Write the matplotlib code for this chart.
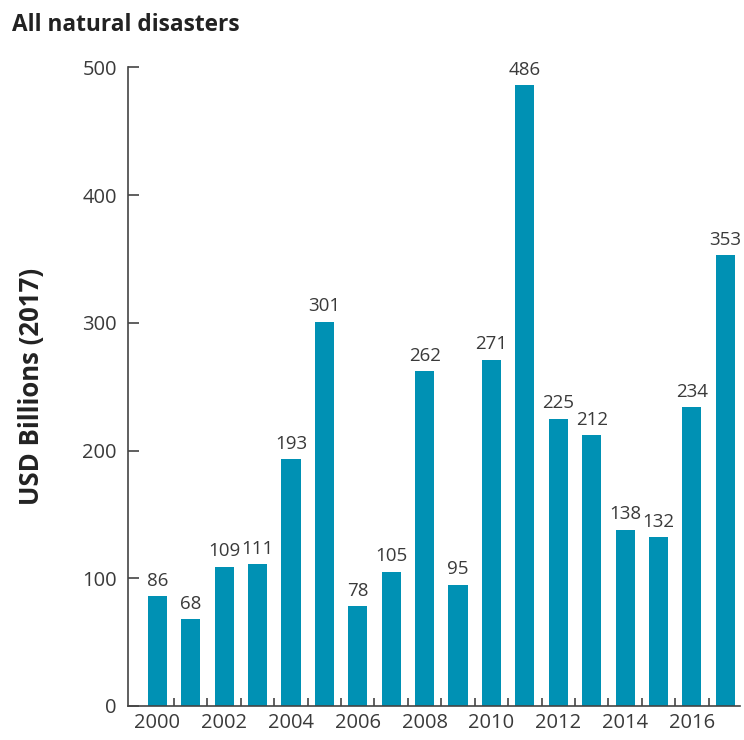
import matplotlib.pyplot as plt
import numpy as np

years = list(range(2000, 2018))
losses = [86, 68, 109, 111, 193, 301, 78, 105, 262, 95, 271, 486, 225, 212, 138, 132, 234, 353]
tick_years = [2000, 2002, 2004, 2006, 2008, 2010, 2012, 2014, 2016]

plt.rcParams['font.family'] = ['Open Sans', 'DejaVu Sans']
text_col = '#3a3a3a'
axis_col = '#444444'

fig = plt.figure(figsize=(7.44, 7.40), dpi=100)
ax = fig.add_axes([0.172, 0.046, 0.823, 0.863])

x = np.arange(len(years))
ax.bar(x, losses, width=0.57, color='#0091b4', zorder=2)
for xi, v in zip(x, losses):
    ax.text(xi, v + 5, str(v), ha='center', va='bottom', fontsize=13.5, color=text_col)

ax.set_xlim(-0.88, 17.45)
ax.set_ylim(0, 500)

for s in ['top', 'right']:
    ax.spines[s].set_visible(False)
for s in ['left', 'bottom']:
    ax.spines[s].set_color(axis_col)
    ax.spines[s].set_linewidth(1.2)

ax.set_yticks([0, 100, 200, 300, 400, 500])
ax.tick_params(axis='y', direction='in', length=8, width=1.2, color=axis_col,
               labelsize=14.5, labelcolor=text_col, pad=8)

# year labels under even bars, small inward ticks between bars
ax.set_xticks([years.index(y) for y in tick_years])
ax.set_xticklabels([str(y) for y in tick_years])
ax.set_xticks(np.arange(0.5, 17, 1.0), minor=True)
ax.tick_params(axis='x', which='major', length=0, labelsize=14.5, labelcolor=text_col, pad=5)
ax.tick_params(axis='x', which='minor', direction='in', length=6, width=1.2, color=axis_col)

ax.set_ylabel('USD Billions (2017)', fontsize=18.5, fontweight='bold', color='#222222')
ax.yaxis.set_label_coords(-0.136, 0.5)
fig.text(0.016, 0.966, 'All natural disasters', fontsize=16.3, fontweight='bold',
         color='#222222', ha='left', va='center')

fig.savefig('out.png', dpi=100)
